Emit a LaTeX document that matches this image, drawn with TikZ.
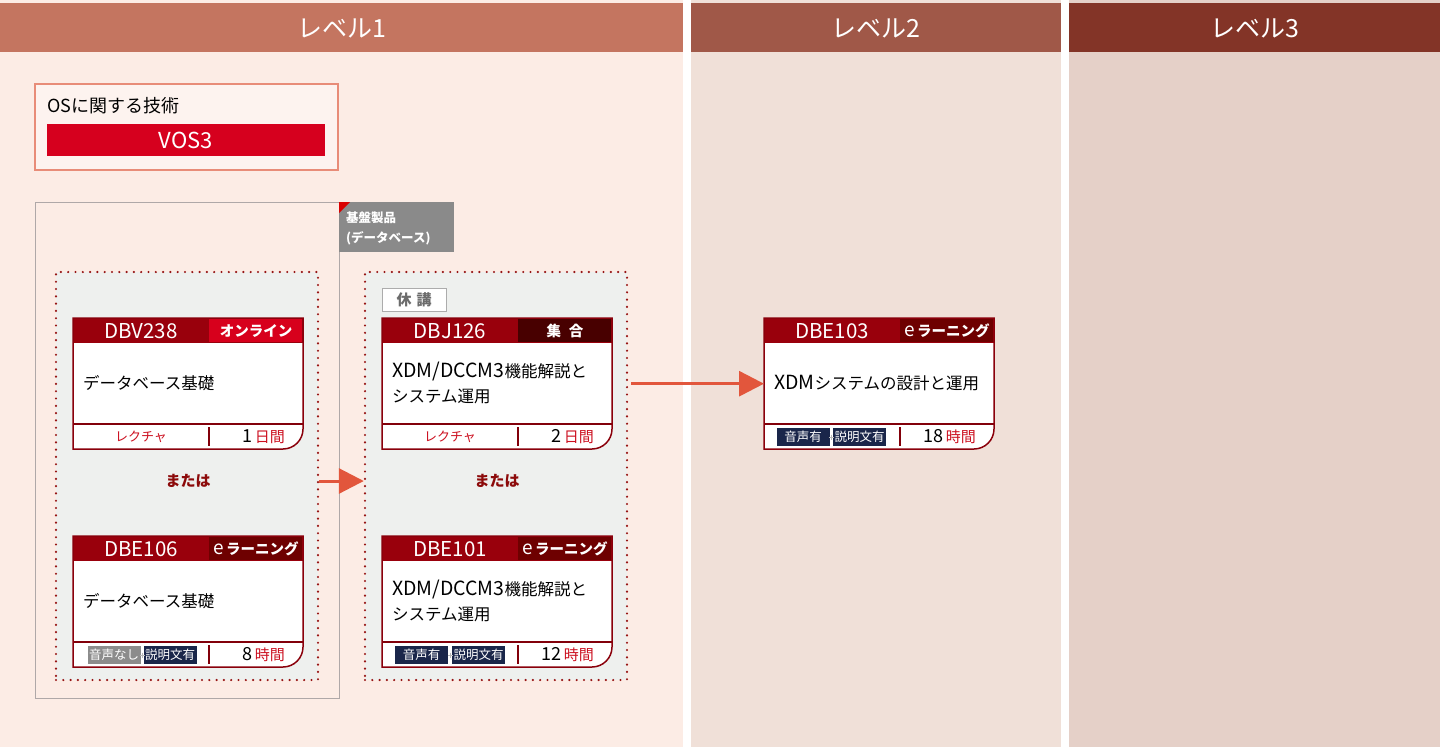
\documentclass[tikz,border=0pt]{standalone}
\usepackage{fontspec}
\setmainfont{Noto Sans CJK JP}
\usetikzlibrary{arrows.meta}
\definecolor{hdA}{RGB}{196,117,96}
\definecolor{hdB}{RGB}{160,88,72}
\definecolor{hdC}{RGB}{131,52,39}
\definecolor{bgA}{RGB}{252,236,229}
\definecolor{bgB}{RGB}{240,224,216}
\definecolor{bgC}{RGB}{229,208,200}
\definecolor{cardred}{RGB}{153,0,12}
\definecolor{onl}{RGB}{215,0,28}
\definecolor{elrn}{RGB}{110,0,0}
\definecolor{shg}{RGB}{72,0,0}
\definecolor{navy}{RGB}{26,38,74}
\definecolor{tgray}{RGB}{140,140,140}
\definecolor{lred}{RGB}{204,16,32}
\definecolor{dotc}{RGB}{150,20,20}
\definecolor{innerc}{RGB}{238,240,238}
\definecolor{contb}{RGB}{175,168,168}
\definecolor{arrc}{RGB}{226,86,60}
\definecolor{osb}{RGB}{232,140,120}
\definecolor{osf}{RGB}{253,243,239}
\definecolor{vosc}{RGB}{214,0,30}
\definecolor{matahac}{RGB}{140,10,10}
\definecolor{tagg}{RGB}{138,138,138}
\newcommand\fsz[1]{\fontsize{#1pt}{#1pt}\selectfont}
\newcommand\elearn{{\mdseries\fsz{19}e}\,ラーニング}
\newcommand\lat[1]{{\fontsize{19.5pt}{25pt}\selectfont #1}}
\newcommand\plusmark[1]{\draw[gray!55, line width=0.6pt] (#1-2.5,119) -- (#1+2.5,119) (#1,116.5) -- (#1,121.5);}
% #1 name, #2 x, #3 y, #4 code, #5 badge colour, #6 badge text, #7 title, #8 footer-left code, #9 duration
\newcommand\coursecard[9]{%
  \node[cardframe, anchor=north west] (#1) at (#2,#3) {};
  \begin{scope}[shift={(#2,#3)}]
    \fill[white] (0,0) -- (230,0) -- (230,111) .. controls (230,122) and (221,131) .. (210,131) -- (0,131) -- cycle;
    \fill[cardred] (0,0) rectangle (230,25);
    \fill[#5] (136,1) rectangle (229,24);
    \node[codetext] (#1-code) at (68,13) {#4};
    \node[badgetext] (#1-badge) at (183,13) {#6};
    \node[titletext] (#1-title) at (10,65) {#7};
    \draw[cardline] (0,106) -- (230,106);
    \draw[cardline] (136,109) -- (136,128);
    #8
    \node[durtxt] (#1-dur) at (212,119) {#9};
    \draw[cardborder] (0,0) -- (230,0) -- (230,111) .. controls (230,122) and (221,131) .. (210,131) -- (0,131) -- cycle;
  \end{scope}}
\newcommand\dur[2]{{\fsz{18}\color{black}#1}\hspace{2pt}{\fsz{15}\color{lred}#2}}
\begin{document}
\begin{tikzpicture}[x=1pt,y=-1pt,
  cardframe/.style={minimum width=230pt, minimum height=131pt, inner sep=0pt, draw=none},
  codetext/.style={text=white, font=\fsz{20.5}, inner sep=0pt},
  badgetext/.style={text=white, font=\bfseries\fsz{14.5}, inner sep=0pt},
  titletext/.style={anchor=west, align=left, inner sep=0pt, font=\fontsize{16.5pt}{25pt}\selectfont},
  cardline/.style={draw=cardred!85!black, line width=1.5pt},
  cardborder/.style={draw=cardred!90!black, line width=1.5pt},
  lect/.style={text=lred, font=\fsz{13}, inner sep=0pt},
  tagbox/.style={text=white, font=\fsz{12.5}, inner xsep=1.5pt, inner ysep=0pt, minimum height=18pt, minimum width=53pt},
  durtxt/.style={anchor=east, inner sep=0pt},
  hdtext/.style={text=white, font=\fsz{25}},
  dotbox/.style={minimum width=262pt, minimum height=408pt, inner sep=0pt, fill=innerc, draw=dotc, line width=2.4pt, dash pattern=on 0pt off 7.3pt, line cap=round},
  arr/.style={draw=arrc, line width=3pt, -{Triangle[length=25pt,width=25pt]}},
  mtxt/.style={text=matahac, font=\bfseries\fsz{15}}
]
\useasboundingbox (0,0) rectangle (1440,747);
\fill[white] (0,0) rectangle (1440,747);
% columns
\fill[bgA] (0,0) rectangle (683,747);
\fill[bgB] (691,0) rectangle (1061,747);
\fill[bgC] (1069,0) rectangle (1440,747);
\fill[hdA] (0,3) rectangle (683,52);
\fill[hdB] (691,3) rectangle (1061,52);
\fill[hdC] (1069,3) rectangle (1440,52);
\node[hdtext] (h1) at (341.5,28) {レベル1};
\node[hdtext] (h2) at (876,28) {レベル2};
\node[hdtext] (h3) at (1254.5,28) {レベル3};
% OS box
\node[anchor=north west, minimum width=303pt, minimum height=86pt, fill=osf, draw=osb, line width=1.5pt] (os) at (34,83) {};
\node[anchor=west, inner sep=0pt, font=\fsz{18}] (ostitle) at (47,106) {OSに関する技術};
\node[minimum width=278pt, minimum height=32pt, inner sep=0pt, fill=vosc, text=white, font=\fsz{22}] (vos) at (186,140) {VOS3};
% group container
\node[anchor=north west, minimum width=304pt, minimum height=496pt, inner sep=0pt, draw=contb, line width=1.2pt] (grp) at (35,202) {};
\node[anchor=north west, minimum width=115pt, minimum height=50pt, inner sep=0pt, fill=tagg] (tag) at (339,202) {};
\fill[red!85!black] (339,202) -- (350,202) -- (339,213) -- cycle;
\node[anchor=west, align=left, inner sep=0pt, text=white, font=\bfseries\fontsize{12.5pt}{20pt}\selectfont] (tagtext) at (346,228) {基盤製品\\(データベース)};
% dotted boxes
\node[dotbox] (d1) at (187,476) {};
\node[dotbox] (d2) at (496,476) {};
\node[mtxt] (m1) at (188,481) {または};
\node[mtxt] (m2) at (497,481) {または};
% kyuko
\node[minimum width=64pt, minimum height=23pt, inner sep=0pt, fill=white, draw=gray!65, line width=1pt, text=gray!85!black, font=\bfseries\fsz{15}] (kyu) at (414,300) {休\hspace{5pt}講};
% cards
\coursecard{c1}{73}{318}{DBV238}{onl}{オンライン}{データベース基礎}{\node[lect] (c1-f) at (68,119) {レクチャ};}{\dur{1}{日間}}
\coursecard{c2}{73}{536}{DBE106}{elrn}{\elearn}{データベース基礎}{\node[tagbox, fill=tgray] (c2-a) at (41,119) {音声なし};\node[tagbox, fill=navy] (c2-b) at (97,119) {説明文有};\plusmark{69}}{\dur{8}{時間}}
\coursecard{c3}{382}{318}{DBJ126}{shg}{集\hspace{8pt}合}{\lat{XDM/DCCM3}機能解説と\\システム運用}{\node[lect] (c3-f) at (68,119) {レクチャ};}{\dur{2}{日間}}
\coursecard{c4}{382}{536}{DBE101}{elrn}{\elearn}{\lat{XDM/DCCM3}機能解説と\\システム運用}{\node[tagbox, fill=navy] (c4-a) at (39.5,119) {音声有};\node[tagbox, fill=navy] (c4-b) at (96.5,119) {説明文有};\plusmark{68}}{\dur{12}{時間}}
\coursecard{c5}{764}{318}{DBE103}{elrn}{\elearn}{\lat{XDM}システムの設計と運用}{\node[tagbox, fill=navy] (c5-a) at (39,119) {音声有};\node[tagbox, fill=navy] (c5-b) at (95.5,119) {説明文有};\plusmark{67.5}}{\dur{18}{時間}}
% arrows
\draw[arr] (d1.east |- m1) -- (d2.west |- m1);
\draw[arr, shorten <=3pt] (d2.east |- c5.west) -- (c5.west);
\end{tikzpicture}
\end{document}
